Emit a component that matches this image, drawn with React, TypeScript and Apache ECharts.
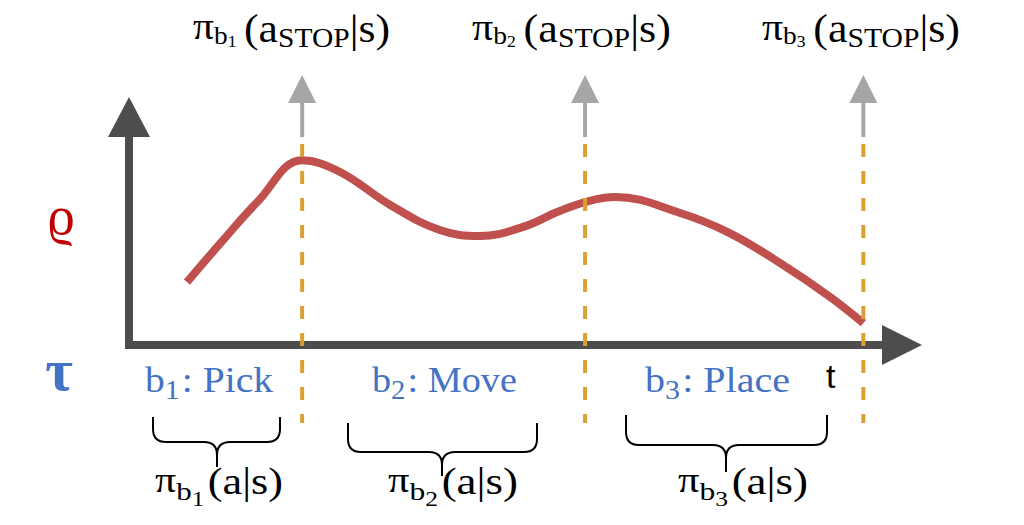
import React, { useEffect, useRef } from 'react';
import * as echarts from 'echarts';

// ---- data (chart units: x 0..100 along time, y 0..100 along value) ----
const curveX = [7.5, 12.2, 16.6, 22.4, 27.3, 33.8, 40.2, 45.4, 51.0, 55.4, 59.0, 62.9, 71.3, 77.7, 84.2, 90.7, 95.0];
const curveY = [27.6, 46.1, 62.7, 81.0, 75.9, 61.4, 50.4, 47.8, 51.8, 58.3, 62.7, 64.9, 57.9, 49.1, 36.0, 21.1, 9.6];
const stopX = [22.4, 59.0, 95.0];
const dashRange = [88.2, -34.2];
const shaftRange = [91.2, 108.0];
const arrowHeadY = 112.3;
const skillIdx = ['1', '2', '3'];
const skillNames = ['Pick', 'Move', 'Place'];

const SERIF = "'Liberation Serif', 'Times New Roman', serif";
const SANS = "'Liberation Sans', Arial, sans-serif";
const BLUE = '#4472c4';
const AXIS = '#4d4d4d';
const GRAY = '#a6a6a6';

// layout (pixels)
const topSpans = [[193, 390], [472, 671], [762, 960]];
const skillSpans = [[145, 273], [372, 517], [645, 790]];
const policySpans = [[155, 283], [388, 518], [678, 808]];
const braces = [
  { x1: 153, x2: 280, cx: 217, y: 417, mid: 442, bottom: 467 },
  { x1: 348, x2: 537, cx: 442, y: 423, mid: 452, bottom: 476 },
  { x1: 626, x2: 827, cx: 726, y: 415, mid: 445, bottom: 472 },
];

const Brace = echarts.graphic.extendShape({
  shape: { x1: 0, x2: 0, cx: 0, y: 0, mid: 0, bottom: 0, r: 13 },
  buildPath(ctx: any, s: any) {
    const { x1, x2, cx, y, mid, bottom, r } = s;
    ctx.moveTo(x1, y);
    ctx.lineTo(x1, mid - r);
    ctx.quadraticCurveTo(x1, mid, x1 + r, mid);
    ctx.lineTo(cx - r, mid);
    ctx.quadraticCurveTo(cx, mid, cx, mid + r);
    ctx.lineTo(cx, bottom);
    ctx.moveTo(x2, y);
    ctx.lineTo(x2, mid - r);
    ctx.quadraticCurveTo(x2, mid, x2 - r, mid);
    ctx.lineTo(cx + r, mid);
    ctx.quadraticCurveTo(cx, mid, cx, mid + r);
  },
});
echarts.graphic.registerShape('brace', Brace);

type Piece = { t: string; size: number; dy?: number; gap?: number; weight?: string };
const BASE_SHIFT = 0.34;
let measureCtx: CanvasRenderingContext2D | null = null;
function measure(t: string, size: number, family: string, weight = 'normal') {
  if (!measureCtx) measureCtx = document.createElement('canvas').getContext('2d');
  measureCtx!.font = `${weight} ${size}px ${family}`;
  return measureCtx!.measureText(t).width;
}

function mathText(pieces: Piece[], left: number, right: number, baseline: number, color: string, family = SERIF) {
  let x = 0;
  const children: any[] = [];
  pieces.forEach((p) => {
    x += p.gap || 0;
    const w = measure(p.t, p.size, family, p.weight);
    children.push({
      type: 'text',
      x,
      y: baseline + (p.dy || 0) - BASE_SHIFT * p.size,
      silent: true,
      style: {
        text: p.t, fontSize: p.size, fontFamily: family, fontWeight: p.weight || 'normal', fill: color,
        align: 'left', verticalAlign: 'middle', textAlign: 'left', textVerticalAlign: 'middle',
      },
    });
    x += w;
  });
  return { type: 'group', x: left, y: 0, scaleX: (right - left) / x, silent: true, children };
}

function glyph(t: string, cx: number, baseline: number, size: number, color: string, family: string, weight = 'normal') {
  return {
    type: 'text', x: cx, y: baseline - BASE_SHIFT * size, silent: true,
    style: { text: t, fontSize: size, fontFamily: family, fontWeight: weight, fill: color,
      align: 'center', verticalAlign: 'middle', textAlign: 'center', textVerticalAlign: 'middle' },
  };
}

function buildOption() {
  const graphics: any[] = [];
  skillIdx.forEach((k, i) => {
    graphics.push(mathText([
      { t: 'π', size: 38, dy: -2 },
      { t: 'b', size: 25, dy: 2 },
      { t: k, size: 16, dy: 5 },
      { t: '(a', size: 40, gap: 7 },
      { t: 'STOP', size: 27, dy: 5 },
      { t: '|s)', size: 40 },
    ], topSpans[i][0], topSpans[i][1], 42, '#000'));
    graphics.push(mathText([
      { t: 'b', size: 36 },
      { t: k, size: 27, dy: 7 },
      { t: ': ' + skillNames[i], size: 36, gap: 2 },
    ], skillSpans[i][0], skillSpans[i][1], 392, BLUE));
    graphics.push(mathText([
      { t: 'π', size: 35, dy: -2 },
      { t: 'b', size: 26, dy: 6 },
      { t: k, size: 21, dy: 12 },
      { t: '(a|s)', size: 37, gap: 3 },
    ], policySpans[i][0], policySpans[i][1], 494, '#000'));
    graphics.push({
      type: 'brace', silent: true, shape: { ...braces[i], r: 13 },
      style: { stroke: '#000', lineWidth: 2, fill: null },
    });
  });
  graphics.push(glyph('ϱ', 61, 234, 54, '#c00000', SERIF));
  graphics.push(glyph('τ', 59, 390, 60, BLUE, SERIF, 'bold'));
  graphics.push({
    type: 'text', x: 826, y: 388 - 0.36 * 34, silent: true,
    style: { text: 't', fontSize: 34, fontFamily: SANS, fill: '#000', align: 'left', verticalAlign: 'middle', textAlign: 'left', textVerticalAlign: 'middle' },
  });

  const hiddenAxis = {
    axisTick: { show: false },
    axisLabel: { show: false },
    splitLine: { show: false },
    splitArea: { show: false },
  };

  return {
    animation: false,
    backgroundColor: '#ffffff',
    grid: { left: 129, right: 122, top: 117, bottom: 180, containLabel: false },
    xAxis: {
      type: 'value', min: 0, max: 100, ...hiddenAxis,
      axisLine: { show: true, symbol: ['none', 'triangle'], symbolSize: [40, 40], lineStyle: { color: AXIS, width: 8, cap: 'square' } },
    },
    yAxis: {
      type: 'value', min: 0, max: 100, ...hiddenAxis,
      axisLine: { show: true, symbol: ['none', 'triangle'], symbolSize: [42, 40], lineStyle: { color: AXIS, width: 8 } },
    },
    series: [
      {
        type: 'line', name: 'value', data: curveX.map((x, i) => [x, curveY[i]]), smooth: 0.4, symbol: 'none', silent: true, z: 2,
        lineStyle: { color: '#c0504d', width: 8 },
      },
      ...stopX.map((x, i) => ({
        type: 'line', name: 'stop' + skillIdx[i], data: [[x, dashRange[0]], [x, dashRange[1]]], symbol: 'none', clip: false, silent: true, z: 3,
        lineStyle: { color: '#d9a032', width: 4, type: [13, 14] },
      })),
      ...stopX.map((x, i) => ({
        type: 'line', name: 'stopShaft' + skillIdx[i], data: [[x, shaftRange[0]], [x, shaftRange[1]]], symbol: 'none', clip: false, silent: true, z: 3,
        lineStyle: { color: GRAY, width: 4 },
      })),
      {
        type: 'scatter', name: 'stopHead', data: stopX.map((x) => [x, arrowHeadY]), symbol: 'triangle', symbolSize: [28, 28],
        clip: false, silent: true, z: 4, itemStyle: { color: GRAY, opacity: 1 },
      },
    ],
    graphic: graphics,
  };
}

export default function App() {
  const ref = useRef<HTMLDivElement>(null);
  useEffect(() => {
    const chart = echarts.init(ref.current!, null, { renderer: 'svg' });
    chart.setOption(buildOption() as any);
    return () => chart.dispose();
  }, []);
  return <div ref={ref} style={{ position: 'absolute', left: 0, top: 0, width: 1024, height: 525 }} />;
}
